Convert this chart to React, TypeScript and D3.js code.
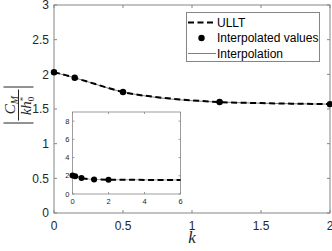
import * as d3 from "d3";

// ULLT reference curve (k, |C_M / k h0*|)
const ulltK = [0, 0.1, 0.15, 0.25, 0.4, 0.5, 0.75, 1, 1.2, 1.5, 2, 3, 4, 5, 6];
const ulltV = [2.03, 1.98, 1.95, 1.89, 1.8, 1.745, 1.67, 1.625, 1.6, 1.585, 1.57, 1.555, 1.55, 1.545, 1.545];

// interpolated points
const pointK = [0, 0.15, 0.5, 1.2, 2];
const pointV = [2.03, 1.95, 1.745, 1.6, 1.57];

// interpolation curve (extends flat in the inset)
const interpK = [0, 0.15, 0.5, 1.2, 2, 6];
const interpV = [2.03, 1.95, 1.745, 1.6, 1.57, 1.545];

const xTicks = [0, 0.5, 1, 1.5, 2];
const yTicks = [0, 0.5, 1, 1.5, 2, 2.5, 3];
const insetXTicks = [0, 2, 4, 6];
const insetYTicks = [0, 2, 4, 6, 8];
const legendLabels = ["ULLT", "Interpolated values", "Interpolation"];

const AXIS = "#858585";
const TXT = "#262626";
const SANS = "'Liberation Sans', Arial, Helvetica, sans-serif";
const SERIF = "'Liberation Serif', 'Times New Roman', serif";

type Pt = [number, number];

export default function App() {
  const x = d3.scaleLinear().domain([0, 2]).range([54, 330]);
  const y = d3.scaleLinear().domain([0, 3]).range([213, 5]);
  const ix = d3.scaleLinear().domain([0, 6]).range([72.5, 180.5]);
  const iy = d3.scaleLinear().domain([0, 9]).range([194, 112]);

  const ullt: Pt[] = ulltK.map((k, i) => [k, ulltV[i]]);
  const pts: Pt[] = pointK.map((k, i) => [k, pointV[i]]);
  const interp: Pt[] = interpK.map((k, i) => [k, interpV[i]]);

  const mkLine = (sx: d3.ScaleLinear<number, number>, sy: d3.ScaleLinear<number, number>) =>
    d3.line<Pt>().x((d) => sx(d[0])).y((d) => sy(d[1])).curve(d3.curveMonotoneX);

  const mainLine = mkLine(x, y);
  const insetLine = mkLine(ix, iy);

  const [x0, x1] = x.range();
  const [y0, y1] = y.range();
  const [ix0, ix1] = ix.range();
  const [iy0, iy1] = iy.range();

  return (
    <svg width={332} height={251} style={{ position: "absolute", left: 0, top: 0, background: "#fff" }}>
      {/* main axes frame */}
      <rect x={x0} y={y1} width={x1 - x0} height={y0 - y1} fill="#fff" stroke={AXIS} strokeWidth={1} />
      {xTicks.map((t) => (
        <g key={"xt" + t}>
          <line x1={x(t)} x2={x(t)} y1={y0} y2={y0 - 3} stroke={AXIS} />
          <line x1={x(t)} x2={x(t)} y1={y1} y2={y1 + 3} stroke={AXIS} />
          <text x={x(t)} y={229.5} textAnchor="middle" fontFamily={SANS} fontSize={12} fill={TXT}>
            {t}
          </text>
        </g>
      ))}
      {yTicks.map((t) => (
        <g key={"yt" + t}>
          <line x1={x0} x2={x0 + 3} y1={y(t)} y2={y(t)} stroke={AXIS} />
          <line x1={x1} x2={x1 - 3} y1={y(t)} y2={y(t)} stroke={AXIS} />
          <text x={x0 - 5} y={y(t) + 4.3} textAnchor="end" fontFamily={SANS} fontSize={12} fill={TXT}>
            {t}
          </text>
        </g>
      ))}

      {/* main series */}
      <path d={mainLine(interp.filter((d) => d[0] <= 2)) || ""} fill="none" stroke="#606060" strokeWidth={0.8} />
      <path
        d={mainLine(ullt.filter((d) => d[0] <= 2)) || ""}
        fill="none"
        stroke="#000"
        strokeWidth={2}
        strokeDasharray="6,3.5"
      />
      {pts.map((d, i) => (
        <circle key={"p" + i} cx={x(d[0])} cy={y(d[1])} r={3.2} fill="#000" />
      ))}

      {/* inset */}
      <rect x={ix0} y={iy1} width={ix1 - ix0} height={iy0 - iy1} fill="#fff" stroke={AXIS} strokeWidth={0.8} />
      {insetXTicks.map((t) => (
        <g key={"ixt" + t}>
          <line x1={ix(t)} x2={ix(t)} y1={iy0} y2={iy0 - 2} stroke={AXIS} strokeWidth={0.8} />
          <line x1={ix(t)} x2={ix(t)} y1={iy1} y2={iy1 + 2} stroke={AXIS} strokeWidth={0.8} />
          <text x={ix(t)} y={203.5} textAnchor="middle" fontFamily={SANS} fontSize={7.5} fill={TXT}>
            {t}
          </text>
        </g>
      ))}
      {insetYTicks.map((t) => (
        <g key={"iyt" + t}>
          <line x1={ix0} x2={ix0 + 2} y1={iy(t)} y2={iy(t)} stroke={AXIS} strokeWidth={0.8} />
          <line x1={ix1} x2={ix1 - 2} y1={iy(t)} y2={iy(t)} stroke={AXIS} strokeWidth={0.8} />
          <text x={ix0 - 3} y={iy(t) + 2.7} textAnchor="end" fontFamily={SANS} fontSize={7.5} fill={TXT}>
            {t}
          </text>
        </g>
      ))}
      <path d={insetLine(interp) || ""} fill="none" stroke="#909090" strokeWidth={0.8} />
      <path d={insetLine(ullt) || ""} fill="none" stroke="#000" strokeWidth={2} strokeDasharray="6,3.5" />
      {pts.map((d, i) => (
        <circle key={"ip" + i} cx={ix(d[0])} cy={iy(d[1])} r={3} fill="#000" />
      ))}

      {/* legend */}
      <g>
        <rect x={186.5} y={12.5} width={133} height={49} fill="#fff" stroke={AXIS} strokeWidth={1} />
        <line x1={188} x2={216} y1={22.5} y2={22.5} stroke="#000" strokeWidth={2} strokeDasharray="6,3.5" />
        <circle cx={201.5} cy={38} r={3.2} fill="#000" />
        <line x1={188} x2={216} y1={53.5} y2={53.5} stroke="#606060" strokeWidth={0.8} />
        {legendLabels.map((s, i) => (
          <text key={s} x={217} y={26.8 + i * 15.5} fontFamily={SANS} fontSize={12} fill="#000">
            {s}
          </text>
        ))}
      </g>

      {/* x label */}
      <text x={192} y={243} textAnchor="middle" fontFamily={SERIF} fontStyle="italic" fontSize={17} fill={TXT}>
        k
      </text>

      {/* y label: |C_M / (k h0*)| rotated */}
      <g transform="translate(18.5,105) rotate(-90)" fill={TXT} fontFamily={SERIF} fontStyle="italic">
        <line x1={-18} x2={-18} y1={-15} y2={15} stroke={TXT} strokeWidth={1} />
        <line x1={18} x2={18} y1={-15} y2={15} stroke={TXT} strokeWidth={1} />
        <line x1={-15.5} x2={15.5} y1={0} y2={0} stroke={TXT} strokeWidth={1} />
        <text x={0} y={-3.5} textAnchor="middle" fontSize={15}>
          C<tspan fontSize={10} dy={2.5}>M</tspan>
        </text>
        <text x={-1} y={12.5} textAnchor="middle" fontSize={15}>
          kh<tspan fontSize={9} dy={-5} fontStyle="normal">*</tspan>
          <tspan fontSize={9} dx={-4.5} dy={8} fontStyle="normal">0</tspan>
        </text>
      </g>
    </svg>
  );
}
